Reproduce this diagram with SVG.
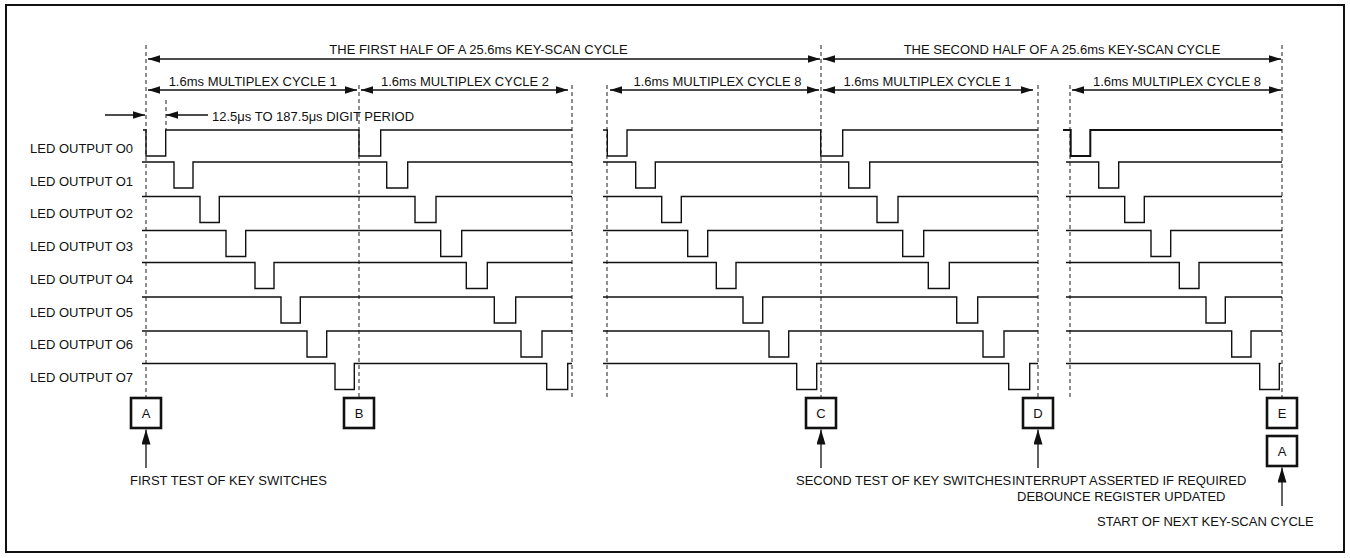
<svg xmlns="http://www.w3.org/2000/svg" width="1350" height="558" viewBox="0 0 1350 558">
<style>
text{font-family:"Liberation Sans",Arial,sans-serif;font-size:13px;fill:#111}
.c{text-anchor:middle}
.w{fill:none;stroke:#111;stroke-width:1.4}
.d{fill:none;stroke:#444;stroke-width:1.2;stroke-dasharray:4,3}
.a{fill:none;stroke:#111;stroke-width:1.3}
.box{fill:#fff;stroke:#111;stroke-width:2.6}
</style>
<defs>
<marker id="ah" viewBox="0 0 12 7.4" refX="12" refY="3.7" markerWidth="12" markerHeight="7.4" markerUnits="userSpaceOnUse" orient="auto-start-reverse"><path d="M0,0 L12,3.7 L0,7.4 z" fill="#111"/></marker>
<marker id="au" viewBox="0 0 15 9" refX="15" refY="4.5" markerWidth="15" markerHeight="9" markerUnits="userSpaceOnUse" orient="auto"><path d="M0,0 L15,4.5 L0,9 z" fill="#111"/></marker>
</defs>
<rect x="6" y="5" width="1338" height="547" fill="#fff" stroke="#111" stroke-width="2"/>

<g id="dashed-lines">
<line class="d" x1="146" y1="45" x2="146" y2="397"/>
<line class="d" x1="166" y1="100" x2="166" y2="130"/>
<line class="d" x1="359" y1="85" x2="359" y2="397"/>
<line class="d" x1="572" y1="85" x2="572" y2="400"/>
<line class="d" x1="607" y1="85" x2="607" y2="400"/>
<line class="d" x1="821" y1="45" x2="821" y2="397"/>
<line class="d" x1="1038" y1="85" x2="1038" y2="397"/>
<line class="d" x1="1070" y1="85" x2="1070" y2="400"/>
<line class="d" x1="1282" y1="45" x2="1282" y2="397"/>
</g>

<g id="labels">
<text x="30" y="153">LED OUTPUT O0</text>
<text x="30" y="185.7">LED OUTPUT O1</text>
<text x="30" y="218.4">LED OUTPUT O2</text>
<text x="30" y="251.1">LED OUTPUT O3</text>
<text x="30" y="283.8">LED OUTPUT O4</text>
<text x="30" y="316.5">LED OUTPUT O5</text>
<text x="30" y="349.2">LED OUTPUT O6</text>
<text x="30" y="381.9">LED OUTPUT O7</text>
</g>

<g id="waveforms">
<path class="w" d="M143,130 H146 V156 H165.7 V130 H359 V156 H380.7 V130 H572"/>
<path class="w" d="M603,130 H607.3 V156 H627 V130 H820.7 V156 H842.7 V130 H1038"/>
<path class="w" style="stroke-width:2" d="M1063,130 H1070.7 V156 H1090.3 V130 H1282"/>

<path class="w" d="M142,162 H174 V188 H193 V162 H386.7 V188 H407.7 V162 H572"/>
<path class="w" d="M603,162 H635.7 V188 H655.3 V162 H848.7 V188 H869.7 V162 H1038"/>
<path class="w" d="M1066,162 H1098.7 V188 H1118.7 V162 H1282"/>

<path class="w" d="M142,196.5 H200 V222.5 H219.3 V196.5 H415 V222.5 H436 V196.5 H572"/>
<path class="w" d="M603,196.5 H661.7 V222.5 H681.3 V196.5 H877 V222.5 H898 V196.5 H1038"/>
<path class="w" d="M1066,196.5 H1124.7 V222.5 H1144.3 V196.5 H1282"/>

<path class="w" d="M142,230.5 H226 V256.5 H245.7 V230.5 H440.7 V256.5 H461.7 V230.5 H572"/>
<path class="w" d="M603,230.5 H687.7 V256.5 H707.7 V230.5 H902.7 V256.5 H923.7 V230.5 H1038"/>
<path class="w" d="M1066,230.5 H1151 V256.5 H1170.7 V230.5 H1282"/>

<path class="w" d="M142,262.5 H255 V288.5 H274 V262.5 H466.3 V288.5 H487.3 V262.5 H572"/>
<path class="w" d="M603,262.5 H716.3 V288.5 H736 V262.5 H928.3 V288.5 H949.3 V262.5 H1038"/>
<path class="w" d="M1066,262.5 H1179.3 V288.5 H1199 V262.5 H1282"/>

<path class="w" d="M142,297 H281 V323 H300.3 V297 H494.3 V323 H515.7 V297 H572"/>
<path class="w" d="M603,297 H743 V323 H762.7 V297 H956.7 V323 H977.7 V297 H1038"/>
<path class="w" d="M1066,297 H1206 V323 H1225.3 V297 H1282"/>

<path class="w" d="M142,331 H307 V357 H326.7 V331 H521 V357 H542 V331 H572"/>
<path class="w" d="M603,331 H769 V357 H788.7 V331 H983 V357 H1004 V331 H1038"/>
<path class="w" d="M1066,331 H1231.7 V357 H1251 V331 H1282"/>

<path class="w" d="M142,363.5 H335 V389.5 H354.3 V363.5 H546.7 V389.5 H567.7 V363.5 H572"/>
<path class="w" d="M603,363.5 H796.7 V389.5 H816.7 V363.5 H1008.7 V389.5 H1029.7 V363.5 H1038"/>
<path class="w" d="M1066,363.5 H1259.7 V389.5 H1279.3 V363.5 H1281"/>
</g>

<g id="connectors">
<line class="a" x1="148" y1="59" x2="820" y2="59" marker-start="url(#ah)" marker-end="url(#ah)"/>
<line class="a" x1="823" y1="59" x2="1281" y2="59" marker-start="url(#ah)" marker-end="url(#ah)"/>
<line class="a" x1="148" y1="90" x2="357" y2="90" marker-start="url(#ah)" marker-end="url(#ah)"/>
<line class="a" x1="361" y1="90" x2="568" y2="90" marker-start="url(#ah)" marker-end="url(#ah)"/>
<line class="a" x1="610" y1="90" x2="819" y2="90" marker-start="url(#ah)" marker-end="url(#ah)"/>
<line class="a" x1="823" y1="90" x2="1033" y2="90" marker-start="url(#ah)" marker-end="url(#ah)"/>
<line class="a" x1="1072" y1="90" x2="1281" y2="90" marker-start="url(#ah)" marker-end="url(#ah)"/>
<line class="a" x1="105" y1="115" x2="145" y2="115" marker-end="url(#ah)"/>
<line class="a" x1="208" y1="115" x2="166" y2="115" marker-end="url(#ah)"/>
<line class="a" x1="146" y1="468" x2="146" y2="429.5" marker-end="url(#au)"/>
<line class="a" x1="821" y1="468" x2="821" y2="429.5" marker-end="url(#au)"/>
<line class="a" x1="1038" y1="468" x2="1038" y2="429.5" marker-end="url(#au)"/>
<line class="a" x1="1282" y1="506" x2="1282" y2="467.5" marker-end="url(#au)"/>
</g>

<g id="top-texts">
<text class="c" x="478.5" y="54">THE FIRST HALF OF A 25.6ms KEY-SCAN CYCLE</text>
<text class="c" x="1062" y="54">THE SECOND HALF OF A 25.6ms KEY-SCAN CYCLE</text>
<text class="c" x="252.7" y="86">1.6ms MULTIPLEX CYCLE 1</text>
<text class="c" x="465" y="86">1.6ms MULTIPLEX CYCLE 2</text>
<text class="c" x="717.5" y="86">1.6ms MULTIPLEX CYCLE 8</text>
<text class="c" x="927.5" y="86">1.6ms MULTIPLEX CYCLE 1</text>
<text class="c" x="1177" y="86">1.6ms MULTIPLEX CYCLE 8</text>
<text x="212" y="120.5">12.5μs TO 187.5μs DIGIT PERIOD</text>
</g>

<g id="node-A"><rect class="box" x="131" y="398" width="30" height="30"/><text class="c" x="146" y="417.5">A</text></g>
<g id="node-B"><rect class="box" x="344" y="398" width="30" height="30"/><text class="c" x="359" y="417.5">B</text></g>
<g id="node-C"><rect class="box" x="806" y="398" width="30" height="30"/><text class="c" x="821" y="417.5">C</text></g>
<g id="node-D"><rect class="box" x="1023" y="398" width="30" height="30"/><text class="c" x="1038" y="417.5">D</text></g>
<g id="node-E"><rect class="box" x="1267" y="398" width="30" height="30"/><text class="c" x="1282" y="417.5">E</text></g>
<g id="node-A2"><rect class="box" x="1267" y="436" width="30" height="30"/><text class="c" x="1282" y="455.5">A</text></g>

<g id="notes">
<text x="130" y="485">FIRST TEST OF KEY SWITCHES</text>
<text x="796" y="485">SECOND TEST OF KEY SWITCHES</text>
<text x="1012" y="485">INTERRUPT ASSERTED IF REQUIRED</text>
<text x="1017" y="501">DEBOUNCE REGISTER UPDATED</text>
<text x="1097" y="526">START OF NEXT KEY-SCAN CYCLE</text>
</g>
</svg>
